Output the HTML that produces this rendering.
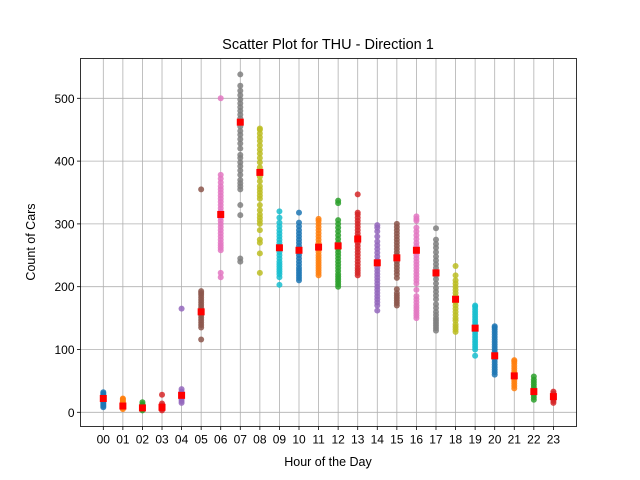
<!DOCTYPE html>
<html><head><meta charset="utf-8"><style>
body{margin:0;background:#fff;font-family:"Liberation Sans","DejaVu Sans",sans-serif;}
svg{display:block}
</style></head><body>
<svg id="chart" width="640" height="480" xmlns="http://www.w3.org/2000/svg">
<rect width="640" height="480" fill="#fff"/>
<g id="grid"></g><g id="marks"></g><g id="axes"></g>
<text x="328" y="49" text-anchor="middle" font-size="14.5">Scatter Plot for THU - Direction 1</text>
<text x="328" y="466" text-anchor="middle" font-size="12.5">Hour of the Day</text>
<text transform="translate(35,242) rotate(-90)" text-anchor="middle" font-size="12.5">Count of Cars</text>
</svg>
<script>
const hours=["00","01","02","03","04","05","06","07","08","09","10","11","12","13","14","15","16","17","18","19","20","21","22","23"];
const yTicks=[0,100,200,300,400,500];
const means=[22,10,7,8,27,160,315,462,382,262,258,263,265,276,238,246,258,222,180,134,90,58,33,25];
const points=[
[8,10,12,14,16,18,20,22,24,26,28,30,32],
[5,7,9,11,13,15,17,19,21,22],
[3,5,7,9,11,13,16],
[3,5,7,9,11,14,28],
[15,18,21,24,27,30,33,37,165],
[116,135,139,143,147,151,155,159,163,167,171,175,179,183,187,190,193,355],
[215,222,258,262,266,270,275,280,285,290,295,300,305,310,315,320,325,330,335,340,345,350,355,360,366,372,378,500],
[240,245,314,330,355,360,365,370,378,385,392,398,405,410,420,428,435,442,448,455,462,468,474,480,486,492,498,505,512,520,538],
[222,253,270,275,290,300,305,310,315,322,330,340,345,350,355,360,368,375,382,390,398,405,412,418,425,432,438,444,450,452],
[203,215,220,224,228,232,236,240,245,250,255,260,265,270,275,280,285,290,296,302,310,320],
[210,214,218,222,226,230,235,240,245,250,255,260,265,270,275,280,285,290,296,302,318],
[218,222,226,230,234,238,242,246,250,255,260,265,270,275,280,285,290,295,300,305,308],
[200,204,208,212,216,220,225,230,235,240,245,250,255,260,265,270,276,282,288,294,300,306,333,337],
[218,222,226,230,235,240,245,250,255,260,265,270,275,280,285,290,295,300,305,310,315,318,347],
[162,170,175,180,185,190,195,200,205,210,215,220,225,230,236,242,248,254,260,266,272,280,288,294,298],
[170,174,178,182,186,190,196,214,220,225,230,235,240,245,250,255,260,265,270,275,280,285,290,295,300],
[150,154,158,162,166,170,175,180,185,195,205,210,215,220,225,230,235,240,245,250,255,260,265,270,276,282,288,294,305,308,312],
[130,134,138,142,146,150,155,160,166,172,180,186,192,198,205,212,218,224,230,236,242,248,255,262,268,275,293],
[128,132,136,140,146,150,155,160,165,170,175,180,185,190,195,200,205,210,218,233],
[90,100,104,108,112,116,120,124,128,132,136,140,144,148,152,156,160,164,168,170],
[60,64,68,72,76,80,84,88,92,96,100,104,108,112,116,120,124,128,132,135,137],
[38,42,46,50,54,58,62,66,70,74,78,81,83],
[20,24,28,32,36,40,44,48,52,57],
[15,18,21,24,27,30,33]
];
const colors=["#1f77b4","#ff7f0e","#2ca02c","#d62728","#9467bd","#8c564b","#e377c2","#7f7f7f","#bcbd22","#17becf"];
const L=80.5,R=576.5,T=58.5,B=426.5;
const xS=i=>103.3+i*19.57;
const yS=v=>412.3-v*0.6280;
const NS="http://www.w3.org/2000/svg";
function mk(tag,attrs,parent){const e=document.createElementNS(NS,tag);for(const k in attrs)e.setAttribute(k,attrs[k]);parent.appendChild(e);return e;}
const grid=document.getElementById('grid'),marks=document.getElementById('marks'),axes=document.getElementById('axes');
hours.forEach((h,i)=>{
 const g=mk('line',{x1:xS(i),x2:xS(i),y1:T,y2:B,stroke:'#b0b0b0','stroke-width':0.8},grid);
 
 
 mk('line',{x1:xS(i),x2:xS(i),y1:B,y2:B+3.5,stroke:'#000','stroke-width':0.8},axes);
 const t=mk('text',{x:xS(i),y:B+17,'text-anchor':'middle','font-size':12},axes);t.textContent=h;
 
 
});
yTicks.forEach(v=>{
 const g=mk('line',{x1:L,x2:R,y1:yS(v),y2:yS(v),stroke:'#b0b0b0','stroke-width':0.8},grid);
 
 
 mk('line',{x1:L-3.5,x2:L,y1:yS(v),y2:yS(v),stroke:'#000','stroke-width':0.8},axes);
 const t=mk('text',{x:L-6,y:yS(v)+4.5,'text-anchor':'end','font-size':12},axes);t.textContent=v;
 
 
});
const frame=mk('rect',{x:L,y:T,width:R-L,height:B-T,fill:'none',stroke:'#000','stroke-width':0.8},axes);


points.forEach((arr,i)=>{
 const c=colors[i%10];
 arr.forEach(v=>{
  const p=mk('circle',{cx:xS(i),cy:yS(v),r:3,fill:c,'fill-opacity':0.85},marks);
  
  
 });
});
means.forEach((m,i)=>{
 const s=mk('rect',{x:xS(i)-3.5,y:yS(m)-3.5,width:7,height:7,fill:'#ff0000'},marks);
 
 
});
</script>
</body></html>
